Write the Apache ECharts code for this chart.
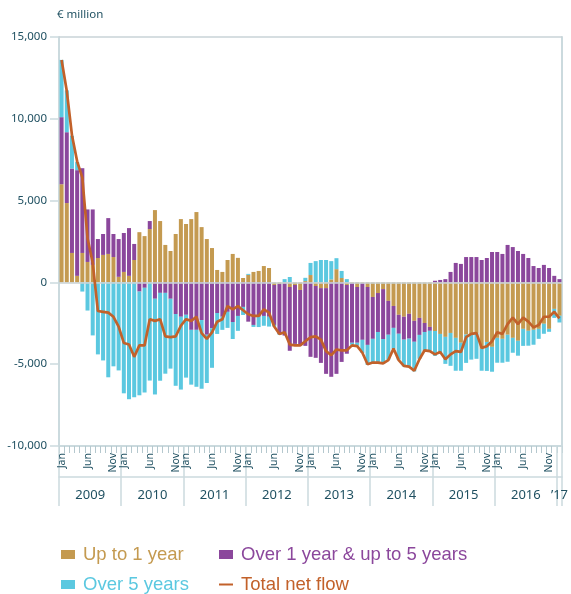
<!DOCTYPE html>
<html>
<head>
<meta charset="utf-8">
<script src="https://cdn.jsdelivr.net/npm/echarts@6/dist/echarts.min.js"></script>
<style>
  html, body { margin: 0; padding: 0; background: #fff; }
  #main { width: 571px; height: 594px; }
</style>
</head>
<body>
<div id="main"></div>
<script>
// month categories, Jan 2009 - Jan 2017
var months = ['Jan', 'Feb', 'Mar', 'Apr', 'May', 'Jun', 'Jul', 'Aug', 'Sep', 'Oct', 'Nov', 'Dec'];
var years = ['2009', '2010', '2011', '2012', '2013', '2014', '2015', '2016'];
var monthShown = ['Jan', 'Jun', 'Nov'];
var lastYearLabel = '\u201917';

var categories = [];
years.forEach(function (y) {
    months.forEach(function (m) { categories.push(m + ' ' + y); });
});
categories.push('Jan 2017');

// € million
var upTo1 = [
    6000, 4850, 1800, 400, 1800, 1250, 1070, 1490, 1680, 1740, 1550, 340,
    640, 400, 1370, 3070, 2830, 3260, 4420, 3750, 2290, 1920, 2960, 3870,
    3570, 3870, 4300, 3380, 2650, 2100, 760, 640, 1370, 1740, 1500, 270,
    460, 640, 700, 1000, 880, -160, -100, -50, -280, -160, -460, 80,
    450, -220, -350, -350, 180, 810, 270, -160, -50, -280, -50, -280,
    -890, -650, -410, -1130, -1440, -1980, -2100, -1920, -2350, -2170, -2480, -2720,
    -2970, -3150, -3330, -3090, -3390, -3690, -3190, -3200, -3100, -4060, -3640, -3940,
    -3390, -3450, -3200, -3390, -3570, -2840, -2960, -2900, -2840, -2530, -2840, -1620,
    -2040
];
var oneTo5 = [
    4100, 4330, 5160, 6460, 5180, 3210, 3390, 1160, 1280, 2190, 1410, 2310,
    2380, 2920, 980, -560, -330, 490, -1000, -640, -640, -1000, -1930, -2100,
    -1980, -2900, -2900, -2300, -3200, -2800, -1870, -2100, -1800, -2420, -2050, -1500,
    -2400, -2600, -2100, -2050, -2100, -2440, -3050, -3200, -3900, -3600, -3400, -3880,
    -4550, -4390, -4570, -5240, -5770, -5590, -4860, -4200, -3640, -3410, -3460, -3540,
    -2560, -2380, -3050, -2070, -1340, -1160, -1400, -1520, -1280, -1040, -550, -240,
    100, 150, 200, 640, 1190, 1130, 1550, 1550, 1550, 1370, 1490, 1860,
    1860, 1740, 2290, 2160, 1920, 1740, 1490, 1000, 880, 1070, 880, 400,
    200
];
var over5 = [
    3500, 2560, 2010, 510, -560, -1720, -3240, -4400, -4770, -5800, -5130, -5380,
    -6780, -7140, -7020, -6340, -6400, -6000, -5850, -5370, -4940, -4270, -4390, -4450,
    -3840, -3350, -3480, -4200, -2950, -2420, -1280, -800, -980, -1040, -910, -490,
    60, -120, -630, -600, -600, -100, -50, 200, 330, -50, 0, 200,
    740, 1300, 1370, 1370, 1120, 670, 430, 200, -120, -180, -800, -1220,
    -1460, -1890, -1520, -1520, -1280, -1590, -1630, -1690, -1810, -1460, -1160, -1220,
    -1520, -1220, -1650, -2010, -2010, -1710, -1730, -1520, -1570, -1340, -1770, -1520,
    -1520, -1460, -1650, -910, -910, -1040, -910, -910, -610, -610, -180, -550,
    -410
];
var totalNet = [
    13600, 11700, 9000, 7400, 6400, 2700, 1200, -1750, -1800, -1850, -2100, -2700,
    -3700, -3800, -4550, -3850, -3850, -2250, -2350, -2250, -3300, -3350, -3300, -2650,
    -2250, -2350, -2100, -3100, -3450, -3050, -2400, -2250, -1450, -1650, -1450, -1700,
    -1950, -2050, -2050, -1650, -1850, -2700, -3150, -3050, -3800, -3850, -3850, -3600,
    -3350, -3300, -3500, -4200, -4450, -4100, -4150, -4150, -3850, -3900, -4300, -5000,
    -4900, -4900, -4950, -4750, -4050, -4750, -5100, -5150, -5400, -4700, -4150, -4200,
    -4400, -4250, -4700, -4400, -4200, -4250, -3350, -3150, -3100, -4000, -3900, -3600,
    -3050, -3150, -2550, -2150, -2550, -2150, -2400, -2750, -2600, -2100, -2100, -1800,
    -2200
];

var yTicks = { min: -10000, max: 15000, step: 5000 };

var colTan = '#c49a50'
    , colPurple = '#8b479c'
    , colCyan = '#5bc8e0'
    , colLine = '#c2612a'
    , colText = '#1f5061'
    , colAxis = '#cbdade';

var names = ['Up to 1 year', 'Over 1 year & up to 5 years', 'Over 5 years', 'Total net flow'];
var legendColors = [colTan, colPurple, colCyan, colLine];
var legendPos = [[61, 545], [219, 545], [61, 575], [219, 575]];

// one legend per item so the two columns line up
var legends = names.map(function (n, i) {
    return {
        left: legendPos[i][0], top: legendPos[i][1], padding: 0,
        itemWidth: 14, itemHeight: i === 3 ? 2 : 9, icon: 'rect',
        textStyle: { fontFamily: 'Liberation Sans', fontSize: 18.5, color: legendColors[i], padding: [0, 0, 0, 3] },
        data: [n]
    };
});

var myChart = echarts.init(document.getElementById('main'), null, { renderer: 'canvas' });

var option = {
    animation: false,
    backgroundColor: '#fff',
    grid: { left: 59, right: 4, top: 37, bottom: 148, containLabel: false },
    legend: legends,
    xAxis: [{
        // months
        type: 'category', data: categories, boundaryGap: true,
        axisLine: { show: true, onZero: false, lineStyle: { color: colAxis, width: 2 } },
        axisTick: { show: true, interval: 0, length: 7, lineStyle: { color: '#b5c8ce', width: 1 } },
        axisLabel: {
            interval: function (i, v) { return monthShown.indexOf(v.split(' ')[0]) >= 0; },
            formatter: function (v) { return v.split(' ')[0]; },
            rotate: 90, margin: 7, color: colText,
            fontFamily: 'Noto Sans', fontSize: 10.5
        },
        splitLine: { show: false }
    }, {
        // year dividers
        type: 'category', data: categories, boundaryGap: true, position: 'bottom',
        axisLine: { show: false, onZero: false },
        axisTick: {
            show: true, length: 60,
            interval: function (i) { return i % 12 === 0; },
            lineStyle: { color: colAxis, width: 1.5 }
        },
        axisLabel: { show: false },
        splitLine: { show: false }
    }, {
        // year labels
        type: 'category', data: categories, boundaryGap: true, position: 'bottom', offset: 31,
        axisLine: { show: true, onZero: false, lineStyle: { color: colAxis, width: 1.5 } },
        axisTick: { show: false },
        axisLabel: {
            interval: function (i) { return i % 12 === 6 || i === categories.length - 1; },
            formatter: function (v, i) {
                if (i === categories.length - 1) return '{e|' + lastYearLabel + '}';
                return '{y|' + v.split(' ')[1] + '}';
            },
            margin: 12, color: colText,
            rich: {
                y: { fontFamily: 'Noto Sans', fontSize: 13, color: colText, padding: [0, 5, 0, 0] },
                e: { fontFamily: 'Noto Sans', fontSize: 13, color: colText }
            }
        },
        splitLine: { show: false }
    }],
    yAxis: [{
        type: 'value', min: yTicks.min, max: yTicks.max, interval: yTicks.step,
        name: '\u20ac million', nameLocation: 'end', nameGap: 16,
        nameTextStyle: { color: colText, fontFamily: 'Noto Sans', fontSize: 11.5, align: 'left', padding: [0, 0, 0, -2] },
        axisLine: { show: true, lineStyle: { color: colAxis, width: 2 } },
        axisTick: { show: true, length: 9, lineStyle: { color: colAxis, width: 1.5 } },
        axisLabel: {
            margin: 12, color: colText, fontFamily: 'Noto Sans', fontSize: 11.5,
            formatter: function (v) { return v.toLocaleString('en-US'); }
        },
        splitLine: { show: false }
    }, {
        type: 'value', min: yTicks.min, max: yTicks.max, interval: yTicks.step, position: 'right',
        axisLine: { show: true, lineStyle: { color: colAxis, width: 2 } },
        axisTick: { show: false }, axisLabel: { show: false }, splitLine: { show: false }
    }],
    series: [{
        name: names[0], type: 'bar', stack: 'flow', data: upTo1,
        barWidth: 4, itemStyle: { color: colTan },
        markLine: {
            silent: true, symbol: 'none', label: { show: false },
            lineStyle: { color: '#c9d3d7', type: 'solid', width: 1.5 },
            data: [{ yAxis: 0 }, { yAxis: yTicks.max }]
        }
    }, {
        name: names[1], type: 'bar', stack: 'flow', data: oneTo5,
        barWidth: 4, itemStyle: { color: colPurple }
    }, {
        name: names[2], type: 'bar', stack: 'flow', data: over5,
        barWidth: 4, itemStyle: { color: colCyan }
    }, {
        name: names[3], type: 'line', data: totalNet, symbol: 'none', z: 5,
        itemStyle: { color: colLine },
        lineStyle: { color: colLine, width: 2.7 }
    }]
};

myChart.setOption(option);
</script>
</body>
</html>
